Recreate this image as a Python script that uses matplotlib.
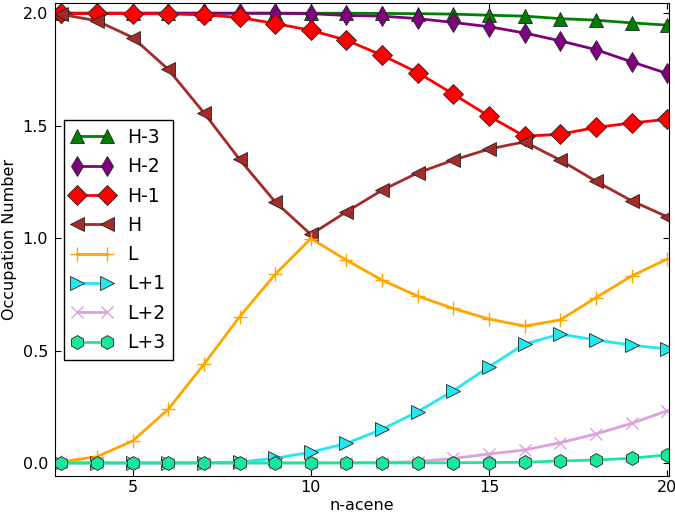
import matplotlib
matplotlib.use("Agg")
from matplotlib import pyplot as plt

# n-acene length
n = list(range(3, 21))

# occupation numbers
h3 = [2.0, 2.0, 2.0, 2.0, 2.0, 2.0, 2.0, 2.0, 2.0, 1.999, 1.998, 1.996,
      1.991, 1.987, 1.976, 1.969, 1.957, 1.947]
h2 = [2.0, 2.0, 2.0, 2.0, 2.0, 2.0, 2.0, 1.998, 1.99, 1.987, 1.976, 1.959,
      1.94, 1.912, 1.877, 1.838, 1.784, 1.732]
h1 = [1.999, 1.999, 1.998, 1.997, 1.993, 1.981, 1.954, 1.924, 1.88, 1.813,
      1.736, 1.64, 1.542, 1.453, 1.462, 1.492, 1.512, 1.528]
h0 = [1.995, 1.966, 1.892, 1.75, 1.557, 1.35, 1.161, 1.016, 1.117, 1.213,
      1.29, 1.347, 1.396, 1.428, 1.347, 1.253, 1.166, 1.095]
l0 = [0.005, 0.028, 0.098, 0.239, 0.439, 0.65, 0.839, 0.998, 0.902, 0.813,
      0.742, 0.687, 0.64, 0.609, 0.636, 0.735, 0.831, 0.907]
l1 = [0.0, 0.0, 0.0, 0.0, 0.001, 0.004, 0.021, 0.048, 0.087, 0.15,
      0.228, 0.321, 0.428, 0.529, 0.573, 0.547, 0.524, 0.507]
l2 = [0.0, 0.0, 0.0, 0.0, 0.0, 0.0, 0.0, 0.0, 0.001, 0.002,
      0.006, 0.02, 0.04, 0.058, 0.09, 0.129, 0.176, 0.232]
l3 = [0.0, 0.0, 0.0, 0.0, 0.0, 0.0, 0.0, 0.0, 0.0, 0.0,
      0.0, 0.001, 0.002, 0.003, 0.009, 0.013, 0.021, 0.036]

series = [
    ("H-3", h3, "green", "^", 10),
    ("H-2", h2, "purple", "d", 10),
    ("H-1", h1, "red", "D", 10),
    ("H", h0, "brown", "<", 10),
    ("L", l0, "orange", "+", 10),
    ("L+1", l1, "#22e8f0", ">", 10),
    ("L+2", l2, "plum", "x", 9),
    ("L+3", l3, "#18e899", "h", 10),
]

fig = plt.figure(figsize=(6.75, 5.16), dpi=100)
ax = fig.add_subplot(1, 1, 1)
fig.subplots_adjust(left=0.0815, right=0.991, top=0.994, bottom=0.0775)

for label, vals, col, mk, ms in series:
    if mk in ("+", "x"):
        ax.plot(n, vals, color=col, lw=2, marker=mk, ms=ms, mew=1,
                label=label)
    else:
        ax.plot(n, vals, color=col, lw=2, marker=mk, ms=ms, mec="#222222",
                mew=0.6, label=label)

ax.set_xlim(2.82, 20.05)
ax.set_ylim(-0.058, 2.045)
ax.set_xticks([5, 10, 15, 20])
ax.set_yticks([0.0, 0.5, 1.0, 1.5, 2.0])
ax.tick_params(direction="in", top=True, right=True, labelsize=11.5,
               length=4)
ax.tick_params(axis="y", pad=5)
ax.tick_params(axis="x", pad=3)
ax.set_xlabel("n-acene", fontsize=11.5, labelpad=2)
ax.set_ylabel("Occupation Number", fontsize=11.5)

leg = ax.legend(loc="upper left", bbox_to_anchor=(0.014, 0.752),
                fontsize=13.5, numpoints=2, fancybox=False,
                labelspacing=0.55, borderaxespad=0, handlelength=2.2)
leg.get_frame().set_edgecolor("black")
leg.get_frame().set_alpha(1)

fig.savefig("out.png", dpi=100)
